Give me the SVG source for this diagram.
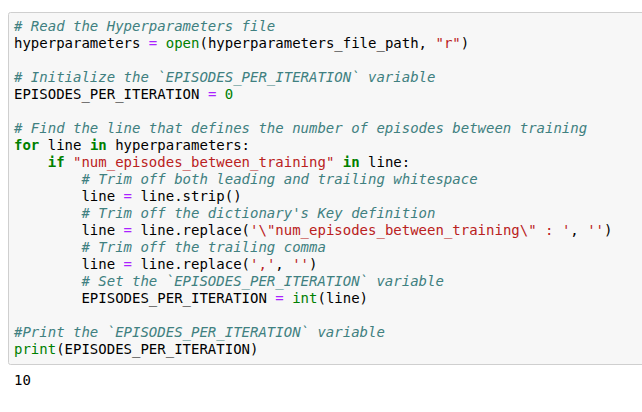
<svg xmlns="http://www.w3.org/2000/svg" width="642" height="412" viewBox="0 0 642 412">
<style>
text{font-family:"DejaVu Sans Mono","Liberation Mono",monospace;font-size:14px;fill:#000;white-space:pre}
.c{fill:#408080;font-style:italic}
.k{fill:#008000;font-weight:bold}
.b{fill:#008000}
.o{fill:#AA22FF}
.s{fill:#BA2121}
.n{fill:#008000}
</style>
<rect x="0" y="0" width="642" height="412" fill="#ffffff"/>
<g id="cell">
<rect x="8.5" y="12.5" width="650" height="352" rx="2" fill="#f7f7f7" stroke="#cfcfcf" stroke-width="1"/>
</g>
<g id="code" xml:space="preserve">
<text x="14" y="30.7" class="c"># Read the Hyperparameters file</text>
<text x="14" y="47.7">hyperparameters <tspan class="o">=</tspan> <tspan class="b">open</tspan>(hyperparameters_file_path, <tspan class="s">"r"</tspan>)</text>
<text x="14" y="81.7" class="c"># Initialize the `EPISODES_PER_ITERATION` variable</text>
<text x="14" y="98.7">EPISODES_PER_ITERATION <tspan class="o">=</tspan> <tspan class="n">0</tspan></text>
<text x="14" y="132.7" class="c"># Find the line that defines the number of episodes between training</text>
<text x="14" y="149.7"><tspan class="k">for</tspan> line <tspan class="k">in</tspan> hyperparameters:</text>
<text x="14" y="166.7">    <tspan class="k">if</tspan> <tspan class="s">"num_episodes_between_training"</tspan> <tspan class="k">in</tspan> line:</text>
<text x="14" y="183.7" class="c">        # Trim off both leading and trailing whitespace</text>
<text x="14" y="200.7">        line <tspan class="o">=</tspan> line.strip()</text>
<text x="14" y="217.7" class="c">        # Trim off the dictionary's Key definition</text>
<text x="14" y="234.7">        line <tspan class="o">=</tspan> line.replace(<tspan class="s">'\"num_episodes_between_training\" : '</tspan>, <tspan class="s">''</tspan>)</text>
<text x="14" y="251.7" class="c">        # Trim off the trailing comma</text>
<text x="14" y="268.7">        line <tspan class="o">=</tspan> line.replace(<tspan class="s">','</tspan>, <tspan class="s">''</tspan>)</text>
<text x="14" y="285.7" class="c">        # Set the `EPISODES_PER_ITERATION` variable</text>
<text x="14" y="302.7">        EPISODES_PER_ITERATION <tspan class="o">=</tspan> <tspan class="b">int</tspan>(line)</text>
<text x="14" y="336.7" class="c">#Print the `EPISODES_PER_ITERATION` variable</text>
<text x="14" y="353.7"><tspan class="b">print</tspan>(EPISODES_PER_ITERATION)</text>
</g>
<g id="output">
<text x="14" y="385">10</text>
</g>
</svg>
